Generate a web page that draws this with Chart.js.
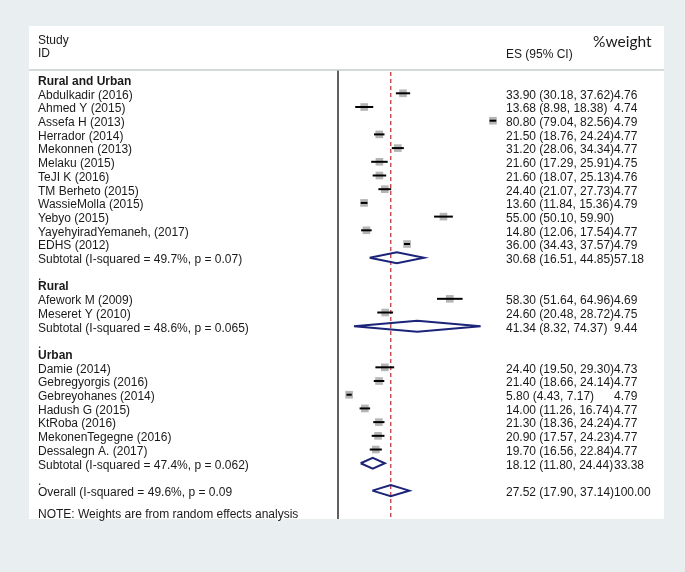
<!DOCTYPE html>
<html><head><meta charset="utf-8">
<script src="https://cdn.jsdelivr.net/npm/chart.js@4/dist/chart.umd.min.js"></script>
<style>
html,body{margin:0;padding:0;background:#e9eff0;}
#wrap{position:relative;width:685px;height:572px;overflow:hidden;}
#panel{position:absolute;left:29px;top:26px;width:635px;height:493px;background:#ffffff;}
canvas{position:absolute;left:0;top:0;}
</style></head><body>
<div id="wrap"><div id="panel"></div><canvas id="c" width="685" height="572"></canvas></div>
<script>
// ---- data (one entry per row of the plot, top to bottom) ----
const rowLabels = [
  "Rural and Urban",
  "Abdulkadir (2016)", "Ahmed Y (2015)", "Assefa H (2013)", "Herrador (2014)",
  "Mekonnen (2013)", "Melaku (2015)", "TeJI K (2016)", "TM Berheto (2015)",
  "WassieMolla (2015)", "Yebyo (2015)", "YayehyiradYemaneh, (2017)", "EDHS (2012)",
  "Subtotal (I-squared = 49.7%, p = 0.07)",
  ".",
  "Rural",
  "Afework M (2009)", "Meseret Y (2010)",
  "Subtotal (I-squared = 48.6%, p = 0.065)",
  ".",
  "Urban",
  "Damie (2014)", "Gebregyorgis (2016)", "Gebreyohanes (2014)", "Hadush G (2015)",
  "KtRoba (2016)", "MekonenTegegne (2016)", "Dessalegn A. (2017)",
  "Subtotal (I-squared = 47.4%, p = 0.062)",
  ".",
  "Overall (I-squared = 49.6%, p = 0.09"
];
const rowKinds = [
  "head",
  "study","study","study","study","study","study","study","study","study","study","study","study",
  "sub","gap","head",
  "study","study",
  "sub","gap","head",
  "study","study","study","study","study","study","study",
  "sub","gap","overall"
];
const esValues = [
  null,
  33.90, 13.68, 80.80, 21.50, 31.20, 21.60, 21.60, 24.40, 13.60, 55.00, 14.80, 36.00,
  30.68, null, null,
  58.30, 24.60,
  41.34, null, null,
  24.40, 21.40, 5.80, 14.00, 21.30, 20.90, 19.70,
  18.12, null, 27.52
];
const ciLow = [
  null,
  30.18, 8.98, 79.04, 18.76, 28.06, 17.29, 18.07, 21.07, 11.84, 50.10, 12.06, 34.43,
  16.51, null, null,
  51.64, 20.48,
  8.32, null, null,
  19.50, 18.66, 4.43, 11.26, 18.36, 17.57, 16.56,
  11.80, null, 17.90
];
const ciHigh = [
  null,
  37.62, 18.38, 82.56, 24.24, 34.34, 25.91, 25.13, 27.73, 15.36, 59.90, 17.54, 37.57,
  44.85, null, null,
  64.96, 28.72,
  74.37, null, null,
  29.30, 24.14, 7.17, 16.74, 24.24, 24.23, 22.84,
  24.44, null, 37.14
];
const weights = [
  null,
  4.76, 4.74, 4.79, 4.77, 4.77, 4.75, 4.76, 4.77, 4.79, null, 4.77, 4.79,
  57.18, null, null,
  4.69, 4.75,
  9.44, null, null,
  4.73, 4.77, 4.79, 4.77, 4.77, 4.77, 4.77,
  33.38, null, 100.00
];
const overallES = 27.52;
const noteText = "NOTE: Weights are from random effects analysis";

// ---- build datasets ----
const Y_MIN = -0.7, Y_MAX = 32.07;
const DIAMOND_H = 0.4;
const datasets = [];

// null line at 0
datasets.push({ data:[{x:0,y:Y_MIN},{x:0,y:Y_MAX}], showLine:true, borderColor:'#1e1e1e',
  borderWidth:1.4, pointRadius:0, order:0, clip:false });
// overall dashed line
datasets.push({ data:[{x:overallES,y:Y_MIN+0.15},{x:overallES,y:Y_MAX}], showLine:true, borderColor:'#c02a2f',
  borderWidth:1.2, borderDash:[4,3], pointRadius:0, order:5, clip:false });

// study boxes
const boxPts = [];
rowKinds.forEach((k,i)=>{ if(k==='study') boxPts.push({x:esValues[i], y:i}); });
datasets.push({ data:boxPts, pointStyle:'rect', pointRadius:5.4, pointBackgroundColor:'#b5b5b5',
  pointBorderWidth:0, showLine:false, order:10, clip:false });

// whiskers
rowKinds.forEach((k,i)=>{
  if(k==='study'){
    datasets.push({ data:[{x:ciLow[i],y:i},{x:ciHigh[i],y:i}], showLine:true, borderColor:'#000000',
      borderWidth:2, pointRadius:0, order:2, clip:false, borderCapStyle:'butt' });
  }
});
// diamonds
rowKinds.forEach((k,i)=>{
  if(k==='sub' || k==='overall'){
    datasets.push({ data:[
        {x:ciLow[i],y:i},{x:esValues[i],y:i-DIAMOND_H},{x:ciHigh[i],y:i},
        {x:esValues[i],y:i+DIAMOND_H},{x:ciLow[i],y:i}],
      showLine:true, borderColor:'#1b2478', borderWidth:2, pointRadius:0, fill:false,
      tension:0, borderJoinStyle:'miter', order:1, clip:false });
  }
});

// ---- text plugin ----
const textPlugin = {
  id:'forestText',
  afterDraw(chart){
    const ctx = chart.ctx, ys = chart.scales.y, ca = chart.chartArea;
    ctx.save();
    // header rule
    ctx.strokeStyle = '#c9cdcd'; ctx.lineWidth = 1.5;
    ctx.beginPath(); ctx.moveTo(29, ca.top); ctx.lineTo(664, ca.top); ctx.stroke();

    ctx.fillStyle = '#1a1a1a';
    ctx.textBaseline = 'middle'; ctx.textAlign = 'left';
    ctx.font = '12px "Liberation Sans", Arial, sans-serif';
    ctx.fillText('Study', 38, ca.top - 29);
    ctx.fillText('ID', 38, ca.top - 16);
    ctx.fillText('ES (95% CI)', 506, ca.top - 15.5);
    ctx.font = '15.5px Lato, "Open Sans", sans-serif';
    ctx.fillText('%weight', 593, ca.top - 28);

    rowLabels.forEach((lab,i)=>{
      const y = ys.getPixelForValue(i) + 2;
      ctx.font = (rowKinds[i]==='head' ? 'bold ' : '') + '12px "Liberation Sans", Arial, sans-serif';
      if(rowKinds[i]==='gap'){ ctx.fillText(lab, 38, y + 3); return; }
      ctx.fillText(lab, 38, y);
      if(esValues[i] !== null){
        ctx.font = '12px "Liberation Sans", Arial, sans-serif';
        const t = esValues[i].toFixed(2) + ' (' + ciLow[i].toFixed(2) + ', ' + ciHigh[i].toFixed(2) + ')';
        ctx.fillText(t, 506, y);
        if(weights[i] !== null) ctx.fillText(weights[i].toFixed(2), 614, y);
      }
    });
    ctx.font = '12px "Liberation Sans", Arial, sans-serif';
    ctx.fillText(noteText, 38, ys.getPixelForValue(31.65) + 1);
    ctx.restore();
  }
};

new Chart(document.getElementById('c'), {
  type:'scatter',
  data:{ datasets },
  options:{
    responsive:false, animation:false, events:[],
    layout:{ padding:{ left:338, right:184, top:70, bottom:53 } },
    scales:{
      x:{ type:'linear', min:0, max:85, display:false },
      y:{ type:'linear', min:Y_MIN, max:Y_MAX, reverse:true, display:false }
    },
    plugins:{ legend:{display:false}, tooltip:{enabled:false} }
  },
  plugins:[textPlugin]
});
</script>
</body></html>
